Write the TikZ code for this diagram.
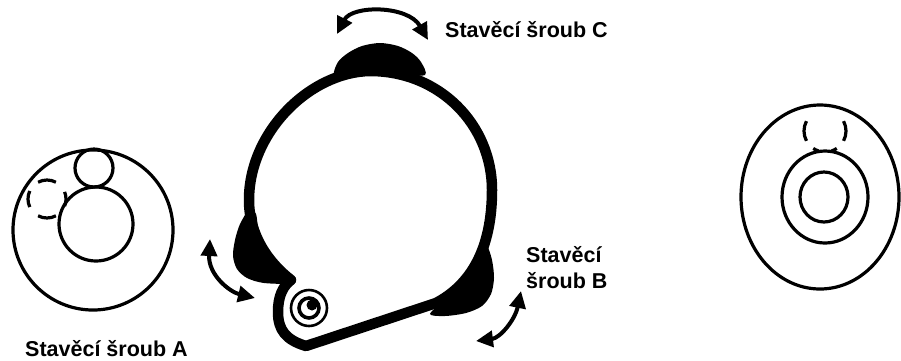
\documentclass[tikz,border=0pt]{standalone}
\usepackage{fontspec}
\setmainfont{Liberation Sans}
\usetikzlibrary{arrows.meta}

\begin{document}
\begin{tikzpicture}[x=1pt,y=-1pt,
  thinline/.style={line width=3.2pt},
  body/.style={line width=10.5pt, line join=round},
  blob/.style={fill=black},
  turn/.style={line width=4pt,
    {Triangle[length=17pt,width=16pt]}-{Triangle[length=17pt,width=16pt]}},
  label/.style={anchor=base west, inner sep=0pt,
    font=\fontsize{21.5}{26}\selectfont\bfseries}]

\useasboundingbox (0,0) rectangle (901,360);

% ---- left view: vial with bubbles
\coordinate (Lc) at (93,230);
\draw[thinline] (Lc) circle[radius=80pt];
\draw[thinline] (94,168) circle[radius=19pt];
\draw[thinline] (96,224) circle[radius=37pt];
\coordinate (Ld) at (47,199);
\draw[thinline]
  (Ld) ++(62:19pt)  arc[start angle=62,  end angle=118, radius=19pt]
  (Ld) ++(155:19pt) arc[start angle=155, end angle=205, radius=19pt]
  (Ld) ++(242:19pt) arc[start angle=242, end angle=298, radius=19pt]
  (Ld) ++(-22:19pt) arc[start angle=-22, end angle=22,  radius=19pt];

\node[label] (labelA) at (25,356) {Stavěcí šroub A};

% ---- right view: centred bubble
\draw[thinline] (820,197) ellipse[x radius=79pt, y radius=92pt];
\draw[thinline] (825,197) ellipse[x radius=43pt, y radius=46pt];
\draw[thinline] (824,197) ellipse[x radius=24pt, y radius=25pt];
\coordinate (Rd) at (825,131);
\draw[thinline]
  (Rd) ++(152:21pt) arc[start angle=152, end angle=208, radius=21pt]
  (Rd) ++(-28:21pt) arc[start angle=-28, end angle=28,  radius=21pt]
  (Rd) ++(236:21pt) arc[start angle=236, end angle=252, radius=21pt]
  (Rd) ++(288:21pt) arc[start angle=288, end angle=304, radius=21pt];

% ---- tribrach: levelling screws
\fill[blob] plot[smooth cycle, tension=0.5] coordinates
  {(334,74) (338,62) (348,53) (362,46) (380,43) (398,46) (412,53) (421,62)
   (425,75) (400,74) (370,71) (345,74)};
\fill[blob] plot[smooth cycle, tension=0.5] coordinates
  {(249,210) (240,224) (235,240) (233,256) (237,269) (247,278) (264,283)
   (291,283) (278,272) (266,256) (259,236) (256,214)};
\fill[blob] plot[smooth cycle, tension=0.5] coordinates
  {(487,246) (492,260) (494,278) (491,294) (482,306) (466,313) (445,316)
   (430,314) (445,300) (460,287) (472,270) (481,250)};

% ---- tribrach outline
\coordinate (notch) at (291,280);
\coordinate (foot) at (306,346);
\draw[body] (notch)
  .. controls (268,262) and (249,235) .. (249,200)
  .. controls (249,132) and (310,72) .. (370,71)
  .. controls (440,71) and (492,125) .. (492,190)
  .. controls (492,250) and (470,285) .. (436,303)
  -- (foot)
  .. controls (286,340) and (278,330) .. (278,312)
  .. controls (278,296) and (283,286) .. (notch) -- cycle;

% ---- circular level on the tribrach
\draw[line width=2.6pt] (309,308) circle[radius=18pt];
\draw[line width=3.6pt] (309,308) circle[radius=10pt];
\fill (312,305) circle[radius=5.5pt];

% ---- turning arrows
\coordinate (Ca) at (337,34);
\coordinate (Cb) at (428,40);
\draw[turn] (Ca) .. controls (352,5) and (408,5) .. (Cb);
\coordinate (Aa) at (210,239);
\coordinate (Ab) at (255,298);
\draw[turn] (Aa) .. controls (208,275) and (230,292) .. (Ab);
\coordinate (Ba) at (476,341);
\coordinate (Bb) at (521,291);
\draw[turn] (Ba) .. controls (500,338) and (515,320) .. (Bb);

% ---- labels
\node[label] (labelC) at (445,37) {Stavěcí šroub C};
\node[label] (labelB1) at (526,262) {Stavěcí};
\node[label] (labelB2) at (526,288) {šroub B};

\end{tikzpicture}
\end{document}
